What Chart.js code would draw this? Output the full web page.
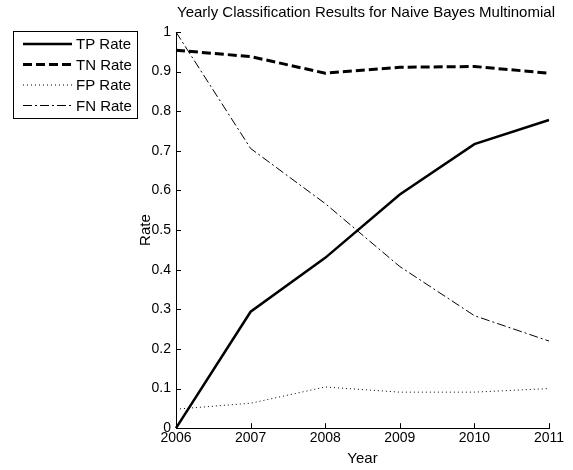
<!DOCTYPE html>
<html>
<head>
<meta charset="utf-8">
<script src="https://cdn.jsdelivr.net/npm/chart.js@4/dist/chart.umd.min.js"></script>
<style>
  html, body { margin: 0; padding: 0; background: #fff; }
  #wrap { width: 573px; height: 470px; }
</style>
</head>
<body>
<div id="wrap"><canvas id="chart" width="573" height="470"></canvas></div>
<script>
'use strict';

// Data
const years = ['2006', '2007', '2008', '2009', '2010', '2011'];
const tpRate = [0, 0.294, 0.43, 0.59, 0.717, 0.778];
const tnRate = [0.954, 0.938, 0.896, 0.911, 0.913, 0.896];
const fpRate = [0.048, 0.063, 0.104, 0.091, 0.091, 0.1];
const fnRate = [1.0, 0.706, 0.567, 0.408, 0.284, 0.22];

const FONT = '"Liberation Sans", Arial, sans-serif';
const TITLE = 'Yearly Classification Results for Naive Bayes Multinomial';

// Title and legend box, drawn on the canvas
const boxLegend = {
    id: 'boxLegend',
    afterDraw(chart) {
        const ctx = chart.ctx;
        ctx.save();
        ctx.fillStyle = '#000';
        ctx.font = '15px ' + FONT;
        ctx.textBaseline = 'middle';
        ctx.textAlign = 'center';
        ctx.fillText(TITLE, 366, 13);
        ctx.textAlign = 'left';

        ctx.strokeStyle = '#000';
        ctx.lineWidth = 1;
        ctx.strokeRect(13.5, 31.5, 124, 87);
        chart.data.datasets.forEach((ds, i) => {
            let y = 44 + i * 20.5;
            ctx.beginPath();
            ctx.setLineDash(ds.borderDash || []);
            ctx.lineWidth = ds.borderWidth;
            ctx.moveTo(23, y);
            ctx.lineTo(72, y);
            ctx.stroke();
            ctx.setLineDash([]);
            ctx.fillText(ds.label, 76, y + 1);
        });
        ctx.restore();
    }
};

// Inward tick marks on the left and bottom axes
const innerTicks = {
    id: 'innerTicks',
    afterDraw(chart) {
        const ctx = chart.ctx;
        const area = chart.chartArea;
        const xs = chart.scales.x;
        const ys = chart.scales.y;
        ctx.save();
        ctx.strokeStyle = '#000';
        ctx.lineWidth = 1;
        ctx.beginPath();
        years.forEach((yr, i) => {
            let px = Math.round(xs.getPixelForValue(i)) + 0.5;
            ctx.moveTo(px, area.bottom);
            ctx.lineTo(px, area.bottom - 5);
        });
        ys.ticks.forEach(t => {
            let py = Math.round(ys.getPixelForValue(t.value)) + 0.5;
            ctx.moveTo(area.left, py);
            ctx.lineTo(area.left + 5, py);
        });
        ctx.stroke();
        ctx.restore();
    }
};

let ctx = document.getElementById('chart').getContext('2d');
let chart = new Chart(ctx, {
    type: 'line',
    data: {
        labels: years,
        datasets: [
            { label: 'TP Rate', data: tpRate, borderColor: '#000', borderWidth: 2.5 },
            { label: 'TN Rate', data: tnRate, borderColor: '#000', borderWidth: 3, borderDash: [9, 4] },
            { label: 'FP Rate', data: fpRate, borderColor: '#000', borderWidth: 1, borderDash: [1, 3] },
            { label: 'FN Rate', data: fnRate, borderColor: '#000', borderWidth: 1, borderDash: [9, 3, 2, 3] }
        ]
    },
    options: {
        responsive: false,
        animation: false,
        elements: {
            point: { radius: 0 },
            line: { tension: 0, borderCapStyle: 'butt' }
        },
        layout: { padding: { left: 137, right: 24, top: 32, bottom: 0 } },
        plugins: {
            legend: { display: false },
            tooltip: { enabled: false },
            title: { display: false }
        },
        scales: {
            x: {
                offset: false,
                grid: { display: false, drawTicks: false },
                border: { color: '#000', width: 1 },
                ticks: { color: '#000', font: { family: FONT, size: 14 }, padding: 2, maxRotation: 0, autoSkip: false },
                title: { display: true, text: 'Year', color: '#000', font: { family: FONT, size: 15 }, padding: { top: 1, bottom: 2 } }
            },
            y: {
                min: 0,
                max: 1,
                grid: { display: false, drawTicks: false },
                border: { color: '#000', width: 1 },
                ticks: {
                    stepSize: 0.1, color: '#000', font: { family: FONT, size: 14 }, padding: 5,
                    callback: value => String(Math.round(value * 10) / 10)
                },
                title: { display: true, text: 'Rate', color: '#000', font: { family: FONT, size: 15 }, padding: 0 },
                afterFit(axis) { axis.width = 39; }
            }
        }
    },
    plugins: [boxLegend, innerTicks]
});
</script>
</body>
</html>
